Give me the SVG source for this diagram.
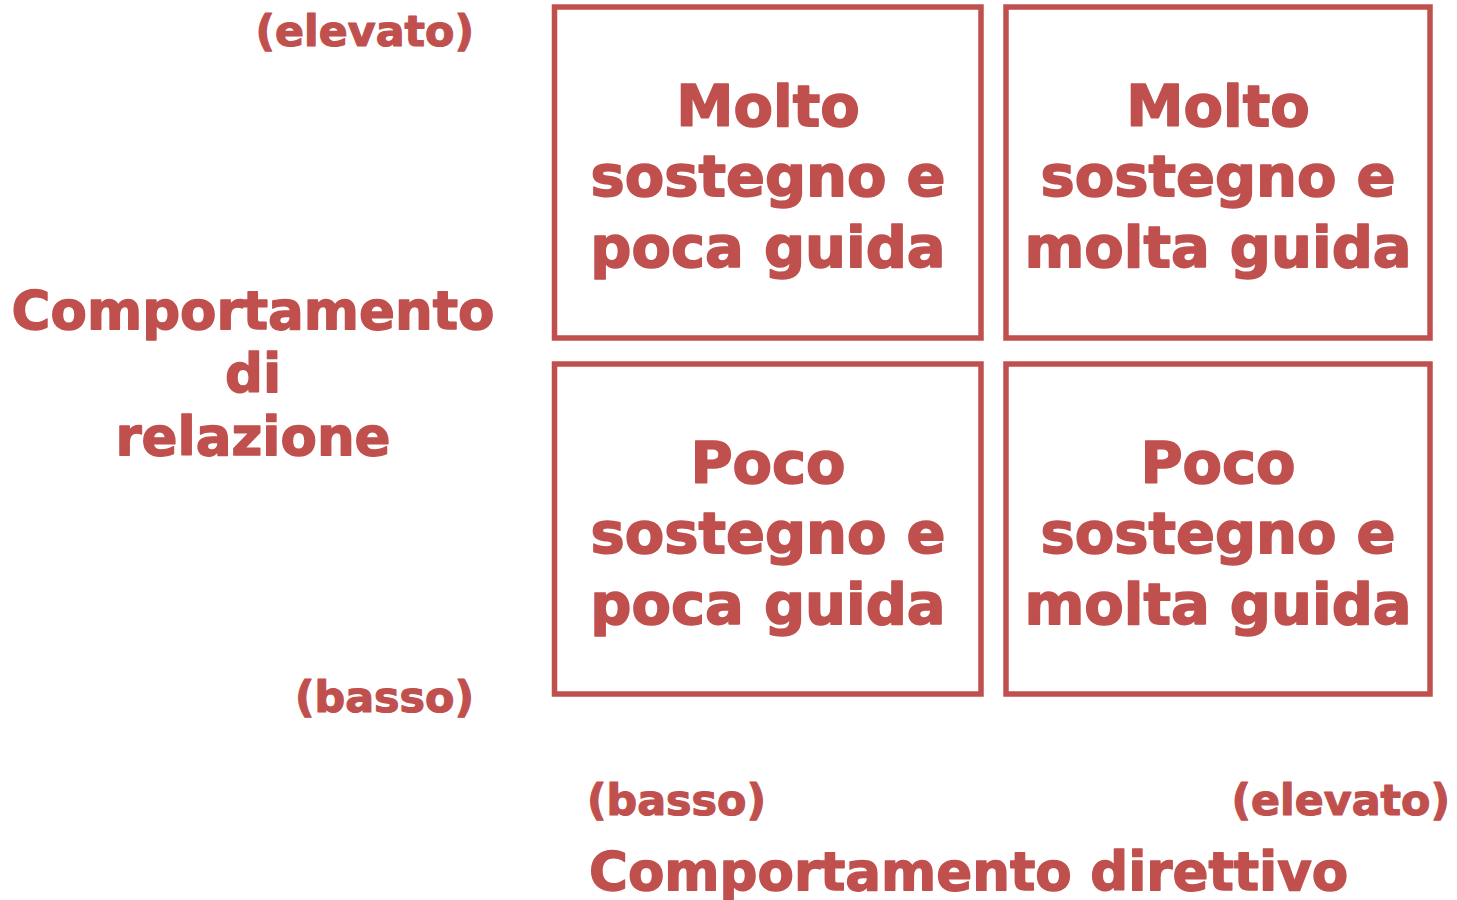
<svg xmlns="http://www.w3.org/2000/svg" width="1457" height="900" viewBox="0 0 1457 900">
<style>
.box{fill:#fff;stroke:#C0504D;stroke-width:5.5}
text{font-family:"DejaVu Sans",Verdana,sans-serif;font-weight:bold;fill:#C0504D;stroke:#C0504D;stroke-linejoin:round}
.q{font-size:57.5px;text-anchor:middle;stroke-width:1.6}
.ax{font-size:53px;stroke-width:1.4}
.s{font-size:42.8px;stroke-width:1.2}
</style>
<rect width="1457" height="900" fill="#fff"/>
<g id="q1">
<rect class="box" x="554.5" y="7" width="426.5" height="331"/>
<text class="q" x="768" y="126">Molto</text>
<text class="q" x="768" y="196">sostegno e</text>
<text class="q" x="768" y="267">poca guida</text>
</g>
<g id="q2">
<rect class="box" x="1006" y="7" width="424" height="331"/>
<text class="q" x="1218" y="126">Molto</text>
<text class="q" x="1218" y="196">sostegno e</text>
<text class="q" x="1218" y="267">molta guida</text>
</g>
<g id="q3">
<rect class="box" x="554.5" y="364" width="426.5" height="330"/>
<text class="q" x="768" y="483">Poco</text>
<text class="q" x="768" y="553">sostegno e</text>
<text class="q" x="768" y="624">poca guida</text>
</g>
<g id="q4">
<rect class="box" x="1006" y="364" width="424" height="330"/>
<text class="q" x="1218" y="483">Poco</text>
<text class="q" x="1218" y="553">sostegno e</text>
<text class="q" x="1218" y="624">molta guida</text>
</g>
<g id="yaxis">
<text class="s" x="474" y="46" text-anchor="end">(elevato)</text>
<text class="ax" x="253" y="329" text-anchor="middle">Comportamento</text>
<text class="ax" x="253" y="392" text-anchor="middle">di</text>
<text class="ax" x="253" y="455" text-anchor="middle">relazione</text>
<text class="s" x="474" y="712" text-anchor="end">(basso)</text>
</g>
<g id="xaxis">
<text class="s" x="587" y="815">(basso)</text>
<text class="s" x="1450" y="815" text-anchor="end">(elevato)</text>
<text class="ax" x="589" y="890">Comportamento direttivo</text>
</g>
<g id="connectors"></g>
</svg>
